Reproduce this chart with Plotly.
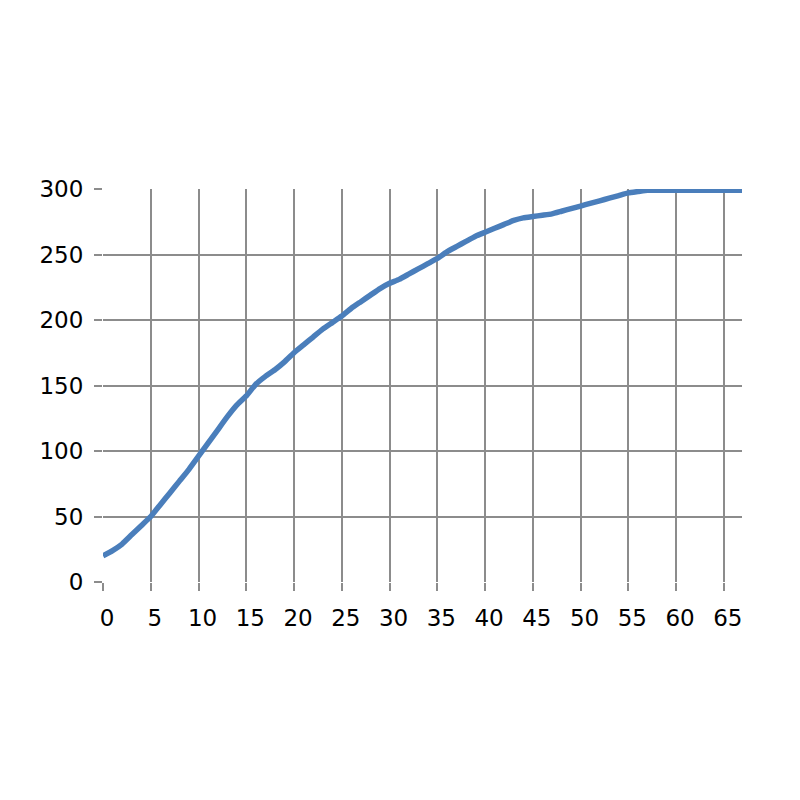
import plotly.graph_objects as go

x_values = list(range(0, 68))
y_values = [20, 24, 29, 36, 43, 50, 59, 68, 77, 86,
            96, 106, 116, 126, 135, 142, 151, 157, 162, 168,
            175, 181, 187, 193, 198, 203, 209, 214, 219, 224,
            228, 231, 235, 239, 243, 247, 252, 256, 260, 264,
            267, 270, 273, 276, 278, 279, 280, 281, 283, 285,
            287, 289, 291, 293, 295, 297, 298, 299, 299, 299,
            299, 299, 299, 299, 299, 299, 299, 299]

x_ticks = list(range(0, 70, 5))
y_ticks = list(range(0, 350, 50))

grid_color = "#8c8c8c"
font = dict(family="DejaVu Sans, Verdana, sans-serif", size=23, color="#000000")

fig = go.Figure()
fig.add_trace(go.Scatter(
    x=x_values, y=y_values, mode="lines",
    line=dict(color="#4a7ebb", width=5.5, shape="spline", smoothing=0.4),
    hoverinfo="skip", showlegend=False,
))

fig.update_layout(
    width=800, height=800,
    margin=dict(l=95, r=66, t=181, b=226, pad=0, autoexpand=False),
    paper_bgcolor="white", plot_bgcolor="white",
    font=font,
    showlegend=False,
)
fig.update_xaxes(
    range=[0, 66.9], tickvals=x_ticks, ticktext=[str(v) for v in x_ticks],
    showgrid=True, gridcolor=grid_color, gridwidth=2,
    zeroline=False, showline=False,
    ticks="outside", ticklen=8, tickwidth=2, tickcolor=grid_color,
    ticklabelshift=4, ticklabelstandoff=7,
    tickfont=font,
)
fig.update_yaxes(
    range=[0, 300], tickvals=y_ticks, ticktext=[str(v) for v in y_ticks],
    showgrid=True, gridcolor=grid_color, gridwidth=2,
    zeroline=False, showline=False,
    ticks="outside", ticklen=8, tickwidth=2, tickcolor=grid_color,
    ticklabelstandoff=6,
    tickfont=font,
)

fig.write_html("out.html")
